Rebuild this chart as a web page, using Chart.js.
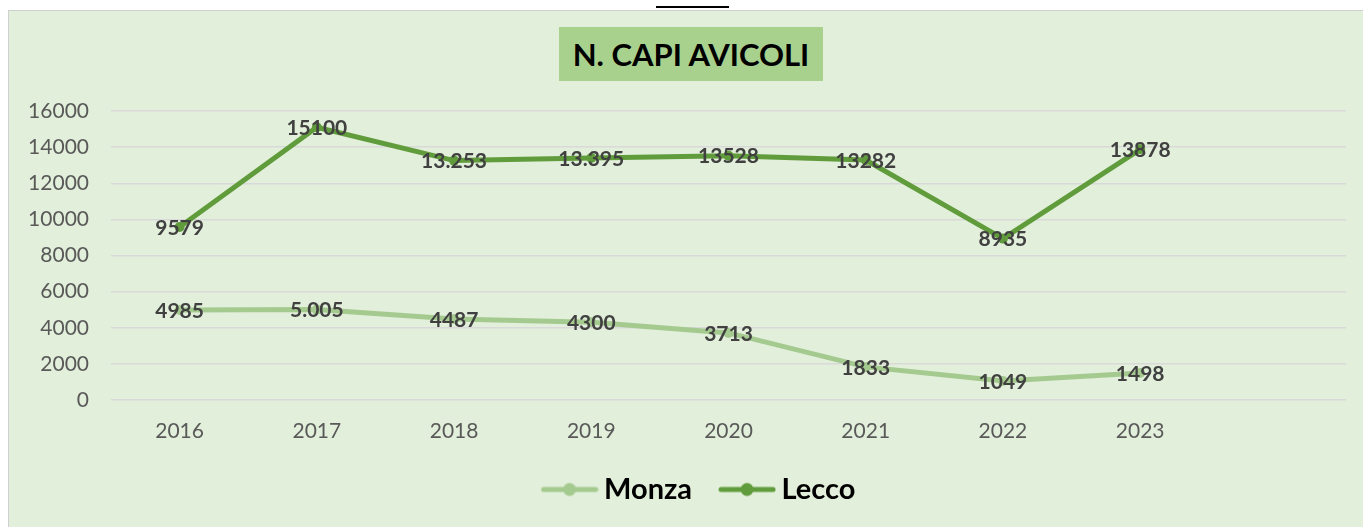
<!DOCTYPE html>
<html>
<head>
<meta charset="utf-8">
<script src="https://cdn.jsdelivr.net/npm/chart.js@4/dist/chart.umd.min.js"></script>
<style>
  html, body { margin: 0; padding: 0; background: #ffffff; width: 1364px; height: 527px; overflow: hidden; }
  #frame { position: absolute; left: 8px; top: 10px; width: 1354px; height: 517px; background: #e2efda; border-left: 1.5px solid #d0d0d0; border-top: 1.5px solid #d0d0d0; }
  #chartBox { position: absolute; left: 0; top: 0; width: 1354px; height: 517px; }
  #title { position: absolute; left: 550px; top: 16px; width: 264px; height: 54px; background: #a9d18e; font-family: Lato, "Noto Sans", sans-serif; font-weight: bold; font-size: 31px; color: #000; display: flex; align-items: center; justify-content: center; }
  #mark { position: absolute; left: 656px; top: 6px; width: 73px; height: 2px; background: #000; }
</style>
</head>
<body>
<div id="mark"></div>
<div id="frame">
  <div id="chartBox"><canvas id="c"></canvas></div>
  <div id="title">N. CAPI AVICOLI</div>
</div>
<script>
const years = ['2016', '2017', '2018', '2019', '2020', '2021', '2022', '2023', ''];
const monza = [4985, 5005, 4487, 4300, 3713, 1833, 1049, 1498];
const lecco = [9579, 15100, 13253, 13395, 13528, 13282, 8935, 13878];
const monzaLabels = ['4985', '5.005', '4487', '4300', '3713', '1833', '1049', '1498'];
const leccoLabels = ['9579', '15100', '13.253', '13.395', '13528', '13282', '8935', '13878'];
const yTicks = [0, 2000, 4000, 6000, 8000, 10000, 12000, 14000, 16000];

const monzaColor = '#a5ca8f';
const leccoColor = '#609c3c';

function legendIcon(color) {
  const cv = document.createElement('canvas');
  cv.width = 58; cv.height = 16;
  const g = cv.getContext('2d');
  g.strokeStyle = color; g.lineWidth = 5; g.lineCap = 'round';
  g.beginPath(); g.moveTo(3, 8); g.lineTo(55, 8); g.stroke();
  g.fillStyle = color; g.beginPath(); g.arc(29, 8, 6.5, 0, Math.PI * 2); g.fill();
  return cv;
}
const icons = [legendIcon(monzaColor), legendIcon(leccoColor)];

const valueLabels = {
  id: 'valueLabels',
  afterDatasetsDraw(chart) {
    const ctx = chart.ctx;
    const sets = [monzaLabels, leccoLabels];
    ctx.save();
    ctx.font = 'bold 21px Lato, "Noto Sans", sans-serif';
    ctx.fillStyle = '#404040';
    ctx.textAlign = 'center';
    ctx.textBaseline = 'middle';
    chart.data.datasets.forEach((ds, di) => {
      const meta = chart.getDatasetMeta(di);
      meta.data.forEach((pt, i) => {
        if (sets[di][i] === undefined) return;
        ctx.fillText(sets[di][i], pt.x, pt.y + 1);
      });
    });
    ctx.restore();
  }
};

const shiftLegend = {
  id: 'shiftLegend',
  afterLayout(chart) {
    if (chart.legend) { chart.legend.left += 25; chart.legend.right += 25; }
  }
};

new Chart(document.getElementById('c'), {
  type: 'line',
  data: {
    labels: years,
    datasets: [
      { label: 'Monza', data: monza, borderColor: monzaColor, backgroundColor: monzaColor, borderWidth: 5, pointRadius: 5, pointBackgroundColor: monzaColor, pointBorderWidth: 0, tension: 0 },
      { label: 'Lecco', data: lecco, borderColor: leccoColor, backgroundColor: leccoColor, borderWidth: 5, pointRadius: 5, pointBackgroundColor: leccoColor, pointBorderWidth: 0, tension: 0 }
    ]
  },
  options: {
    responsive: true,
    maintainAspectRatio: false,
    animation: false,
    events: [],
    layout: { padding: { top: 100, right: 17, left: 0, bottom: 14 } },
    scales: {
      x: {
        offset: true,
        grid: { display: false, drawTicks: false },
        border: { display: false },
        ticks: { color: '#595959', font: { family: 'Lato, "Noto Sans", sans-serif', size: 21 }, padding: 19, maxRotation: 0, autoSkip: false },
        afterFit(s) { s.height = 40; }
      },
      y: {
        min: 0, max: 16000,
        afterBuildTicks(s) { s.ticks = yTicks.map(v => ({ value: v })); },
        grid: { color: '#d9d9d9', lineWidth: 1.5, drawTicks: false },
        border: { display: false },
        ticks: { color: '#595959', font: { family: 'Lato, "Noto Sans", sans-serif', size: 21 }, padding: 22, callback: (v) => String(v) },
        afterFit(s) { s.width = 102; }
      }
    },
    plugins: {
      title: { display: false },
      tooltip: { enabled: false },
      legend: {
        position: 'bottom',
        maxHeight: 87,
        labels: {
          usePointStyle: true,
          pointStyleWidth: 40,
          padding: 35,
          color: '#000000',
          font: { family: 'Lato, "Noto Sans", sans-serif', size: 29, weight: 'bold' },
          generateLabels(chart) {
            return chart.data.datasets.map((ds, i) => ({
              text: ds.label,
              fillStyle: ds.borderColor,
              strokeStyle: ds.borderColor,
              lineWidth: 0,
              pointStyle: icons[i],
              hidden: false,
              datasetIndex: i,
              fontColor: '#000000'
            }));
          }
        }
      }
    }
  },
  plugins: [valueLabels, shiftLegend]
});
</script>
</body>
</html>
